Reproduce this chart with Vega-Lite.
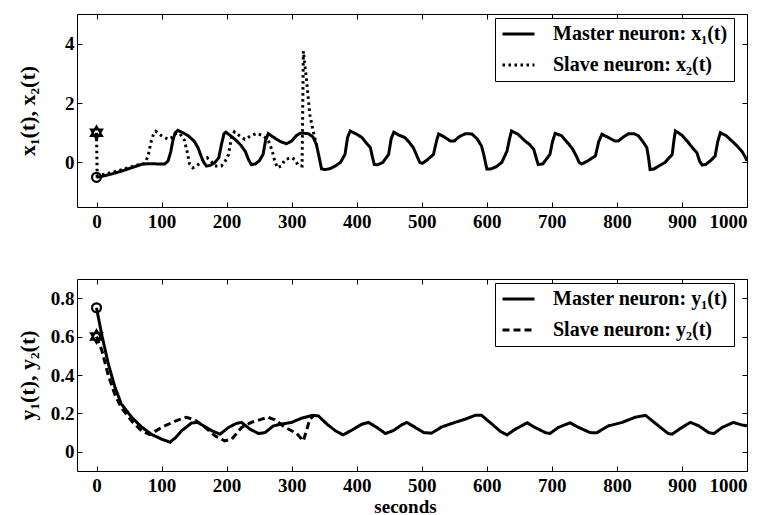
{
  "$schema": "https://vega.github.io/schema/vega-lite/v6.json",
  "autosize": {"type": "pad"},
  "padding": {"left": 15, "top": 13, "right": 5, "bottom": 0},
  "background": "white",
  "bounds": "flush",
  "spacing": 72,
  "config": {
    "view": {"stroke": "black", "strokeWidth": 1},
    "axis": {
      "labelFont": "Liberation Serif", "labelFontSize": 19, "labelFontWeight": "bold", "labelColor": "black",
      "titleFont": "Liberation Serif", "titleFontSize": 20, "titleFontWeight": "bold", "titleColor": "black",
      "domain": false, "grid": false, "tickColor": "black", "tickSize": -5, "tickWidth": 1
    },
    "legend": {
      "orient": "none", "legendX": 418, "legendY": 4, "title": null,
      "strokeColor": "black", "fillColor": "white", "padding": 6,
      "labelFont": "Liberation Serif", "labelFontSize": 20, "labelFontWeight": "bold", "labelColor": "black", "labelLimit": 400,
      "symbolType": "stroke", "symbolSize": 1024, "symbolStrokeWidth": 3, "symbolStrokeColor": "black",
      "clipHeight": 20, "rowPadding": 11, "labelOffset": 17
    }
  },
  "datasets": {
    "x": [
      {"t":0,"v":-0.5,"s":"Master neuron: x₁(t)"},{"t":10,"v":-0.46,"s":"Master neuron: x₁(t)"},{"t":25,"v":-0.38,"s":"Master neuron: x₁(t)"},{"t":40,"v":-0.28,"s":"Master neuron: x₁(t)"},{"t":55,"v":-0.17,"s":"Master neuron: x₁(t)"},{"t":70,"v":-0.06,"s":"Master neuron: x₁(t)"},{"t":80,"v":-0.04,"s":"Master neuron: x₁(t)"},{"t":95,"v":-0.05,"s":"Master neuron: x₁(t)"},{"t":105,"v":-0.05,"s":"Master neuron: x₁(t)"},{"t":110,"v":0.05,"s":"Master neuron: x₁(t)"},{"t":114,"v":0.35,"s":"Master neuron: x₁(t)"},{"t":118,"v":0.8,"s":"Master neuron: x₁(t)"},{"t":121,"v":1.0,"s":"Master neuron: x₁(t)"},{"t":125,"v":1.08,"s":"Master neuron: x₁(t)"},{"t":133,"v":1.0,"s":"Master neuron: x₁(t)"},{"t":141,"v":0.9,"s":"Master neuron: x₁(t)"},{"t":150,"v":0.72,"s":"Master neuron: x₁(t)"},{"t":156,"v":0.5,"s":"Master neuron: x₁(t)"},{"t":161,"v":0.2,"s":"Master neuron: x₁(t)"},{"t":165,"v":0.0,"s":"Master neuron: x₁(t)"},{"t":169,"v":-0.12,"s":"Master neuron: x₁(t)"},{"t":175,"v":-0.1,"s":"Master neuron: x₁(t)"},{"t":182,"v":0.0,"s":"Master neuron: x₁(t)"},{"t":188,"v":0.16,"s":"Master neuron: x₁(t)"},{"t":192,"v":0.6,"s":"Master neuron: x₁(t)"},{"t":196,"v":0.97,"s":"Master neuron: x₁(t)"},{"t":199,"v":1.02,"s":"Master neuron: x₁(t)"},{"t":206,"v":0.9,"s":"Master neuron: x₁(t)"},{"t":213,"v":0.78,"s":"Master neuron: x₁(t)"},{"t":222,"v":0.58,"s":"Master neuron: x₁(t)"},{"t":229,"v":0.36,"s":"Master neuron: x₁(t)"},{"t":234,"v":0.08,"s":"Master neuron: x₁(t)"},{"t":238,"v":-0.07,"s":"Master neuron: x₁(t)"},{"t":244,"v":-0.05,"s":"Master neuron: x₁(t)"},{"t":250,"v":0.05,"s":"Master neuron: x₁(t)"},{"t":256,"v":0.27,"s":"Master neuron: x₁(t)"},{"t":260,"v":0.75,"s":"Master neuron: x₁(t)"},{"t":264,"v":0.97,"s":"Master neuron: x₁(t)"},{"t":270,"v":0.88,"s":"Master neuron: x₁(t)"},{"t":277,"v":0.78,"s":"Master neuron: x₁(t)"},{"t":283,"v":0.7,"s":"Master neuron: x₁(t)"},{"t":292,"v":0.63,"s":"Master neuron: x₁(t)"},{"t":300,"v":0.72,"s":"Master neuron: x₁(t)"},{"t":307,"v":0.9,"s":"Master neuron: x₁(t)"},{"t":313,"v":0.98,"s":"Master neuron: x₁(t)"},{"t":320,"v":0.98,"s":"Master neuron: x₁(t)"},{"t":326,"v":0.97,"s":"Master neuron: x₁(t)"},{"t":333,"v":0.85,"s":"Master neuron: x₁(t)"},{"t":338,"v":0.61,"s":"Master neuron: x₁(t)"},{"t":342,"v":0.2,"s":"Master neuron: x₁(t)"},{"t":346,"v":-0.22,"s":"Master neuron: x₁(t)"},{"t":352,"v":-0.24,"s":"Master neuron: x₁(t)"},{"t":360,"v":-0.2,"s":"Master neuron: x₁(t)"},{"t":367,"v":-0.12,"s":"Master neuron: x₁(t)"},{"t":375,"v":0.0,"s":"Master neuron: x₁(t)"},{"t":382,"v":0.27,"s":"Master neuron: x₁(t)"},{"t":386,"v":0.85,"s":"Master neuron: x₁(t)"},{"t":390,"v":1.06,"s":"Master neuron: x₁(t)"},{"t":400,"v":0.95,"s":"Master neuron: x₁(t)"},{"t":408,"v":0.84,"s":"Master neuron: x₁(t)"},{"t":415,"v":0.65,"s":"Master neuron: x₁(t)"},{"t":421,"v":0.5,"s":"Master neuron: x₁(t)"},{"t":424,"v":0.2,"s":"Master neuron: x₁(t)"},{"t":427,"v":-0.07,"s":"Master neuron: x₁(t)"},{"t":432,"v":-0.08,"s":"Master neuron: x₁(t)"},{"t":440,"v":0.0,"s":"Master neuron: x₁(t)"},{"t":449,"v":0.27,"s":"Master neuron: x₁(t)"},{"t":453,"v":0.8,"s":"Master neuron: x₁(t)"},{"t":457,"v":1.02,"s":"Master neuron: x₁(t)"},{"t":465,"v":0.92,"s":"Master neuron: x₁(t)"},{"t":474,"v":0.84,"s":"Master neuron: x₁(t)"},{"t":480,"v":0.7,"s":"Master neuron: x₁(t)"},{"t":487,"v":0.5,"s":"Master neuron: x₁(t)"},{"t":493,"v":0.2,"s":"Master neuron: x₁(t)"},{"t":497,"v":0.0,"s":"Master neuron: x₁(t)"},{"t":501,"v":-0.03,"s":"Master neuron: x₁(t)"},{"t":508,"v":0.08,"s":"Master neuron: x₁(t)"},{"t":518,"v":0.27,"s":"Master neuron: x₁(t)"},{"t":523,"v":0.75,"s":"Master neuron: x₁(t)"},{"t":526,"v":0.96,"s":"Master neuron: x₁(t)"},{"t":533,"v":0.88,"s":"Master neuron: x₁(t)"},{"t":544,"v":0.72,"s":"Master neuron: x₁(t)"},{"t":550,"v":0.72,"s":"Master neuron: x₁(t)"},{"t":557,"v":0.86,"s":"Master neuron: x₁(t)"},{"t":567,"v":0.97,"s":"Master neuron: x₁(t)"},{"t":577,"v":0.96,"s":"Master neuron: x₁(t)"},{"t":585,"v":0.8,"s":"Master neuron: x₁(t)"},{"t":592,"v":0.55,"s":"Master neuron: x₁(t)"},{"t":596,"v":0.2,"s":"Master neuron: x₁(t)"},{"t":600,"v":-0.22,"s":"Master neuron: x₁(t)"},{"t":606,"v":-0.22,"s":"Master neuron: x₁(t)"},{"t":614,"v":-0.15,"s":"Master neuron: x₁(t)"},{"t":623,"v":0.0,"s":"Master neuron: x₁(t)"},{"t":631,"v":0.38,"s":"Master neuron: x₁(t)"},{"t":635,"v":0.8,"s":"Master neuron: x₁(t)"},{"t":638,"v":1.06,"s":"Master neuron: x₁(t)"},{"t":648,"v":0.95,"s":"Master neuron: x₁(t)"},{"t":659,"v":0.72,"s":"Master neuron: x₁(t)"},{"t":666,"v":0.6,"s":"Master neuron: x₁(t)"},{"t":672,"v":0.45,"s":"Master neuron: x₁(t)"},{"t":676,"v":0.15,"s":"Master neuron: x₁(t)"},{"t":679,"v":-0.07,"s":"Master neuron: x₁(t)"},{"t":686,"v":-0.05,"s":"Master neuron: x₁(t)"},{"t":697,"v":0.27,"s":"Master neuron: x₁(t)"},{"t":701,"v":0.7,"s":"Master neuron: x₁(t)"},{"t":705,"v":0.98,"s":"Master neuron: x₁(t)"},{"t":715,"v":0.9,"s":"Master neuron: x₁(t)"},{"t":726,"v":0.62,"s":"Master neuron: x₁(t)"},{"t":732,"v":0.45,"s":"Master neuron: x₁(t)"},{"t":738,"v":0.2,"s":"Master neuron: x₁(t)"},{"t":742,"v":0.0,"s":"Master neuron: x₁(t)"},{"t":746,"v":-0.05,"s":"Master neuron: x₁(t)"},{"t":755,"v":0.05,"s":"Master neuron: x₁(t)"},{"t":767,"v":0.22,"s":"Master neuron: x₁(t)"},{"t":772,"v":0.7,"s":"Master neuron: x₁(t)"},{"t":777,"v":0.95,"s":"Master neuron: x₁(t)"},{"t":787,"v":0.84,"s":"Master neuron: x₁(t)"},{"t":797,"v":0.72,"s":"Master neuron: x₁(t)"},{"t":802,"v":0.72,"s":"Master neuron: x₁(t)"},{"t":810,"v":0.86,"s":"Master neuron: x₁(t)"},{"t":818,"v":0.97,"s":"Master neuron: x₁(t)"},{"t":826,"v":0.97,"s":"Master neuron: x₁(t)"},{"t":833,"v":0.9,"s":"Master neuron: x₁(t)"},{"t":840,"v":0.7,"s":"Master neuron: x₁(t)"},{"t":846,"v":0.5,"s":"Master neuron: x₁(t)"},{"t":849,"v":0.1,"s":"Master neuron: x₁(t)"},{"t":851,"v":-0.24,"s":"Master neuron: x₁(t)"},{"t":857,"v":-0.22,"s":"Master neuron: x₁(t)"},{"t":866,"v":-0.1,"s":"Master neuron: x₁(t)"},{"t":874,"v":0.0,"s":"Master neuron: x₁(t)"},{"t":885,"v":0.27,"s":"Master neuron: x₁(t)"},{"t":888,"v":0.8,"s":"Master neuron: x₁(t)"},{"t":890,"v":1.06,"s":"Master neuron: x₁(t)"},{"t":900,"v":0.92,"s":"Master neuron: x₁(t)"},{"t":908,"v":0.72,"s":"Master neuron: x₁(t)"},{"t":916,"v":0.5,"s":"Master neuron: x₁(t)"},{"t":923,"v":0.33,"s":"Master neuron: x₁(t)"},{"t":927,"v":0.05,"s":"Master neuron: x₁(t)"},{"t":931,"v":-0.09,"s":"Master neuron: x₁(t)"},{"t":937,"v":-0.06,"s":"Master neuron: x₁(t)"},{"t":945,"v":0.08,"s":"Master neuron: x₁(t)"},{"t":951,"v":0.22,"s":"Master neuron: x₁(t)"},{"t":955,"v":0.7,"s":"Master neuron: x₁(t)"},{"t":959,"v":1.0,"s":"Master neuron: x₁(t)"},{"t":968,"v":0.9,"s":"Master neuron: x₁(t)"},{"t":977,"v":0.72,"s":"Master neuron: x₁(t)"},{"t":985,"v":0.55,"s":"Master neuron: x₁(t)"},{"t":992,"v":0.38,"s":"Master neuron: x₁(t)"},{"t":997,"v":0.2,"s":"Master neuron: x₁(t)"},{"t":1000,"v":0.05,"s":"Master neuron: x₁(t)"},
      {"t":0,"v":1.0,"s":"Slave neuron: x₂(t)"},{"t":1,"v":-0.45,"s":"Slave neuron: x₂(t)"},{"t":15,"v":-0.38,"s":"Slave neuron: x₂(t)"},{"t":30,"v":-0.3,"s":"Slave neuron: x₂(t)"},{"t":45,"v":-0.2,"s":"Slave neuron: x₂(t)"},{"t":60,"v":-0.1,"s":"Slave neuron: x₂(t)"},{"t":74,"v":-0.03,"s":"Slave neuron: x₂(t)"},{"t":79,"v":0.2,"s":"Slave neuron: x₂(t)"},{"t":84,"v":0.7,"s":"Slave neuron: x₂(t)"},{"t":88,"v":0.98,"s":"Slave neuron: x₂(t)"},{"t":91,"v":1.05,"s":"Slave neuron: x₂(t)"},{"t":100,"v":0.9,"s":"Slave neuron: x₂(t)"},{"t":110,"v":0.78,"s":"Slave neuron: x₂(t)"},{"t":117,"v":0.85,"s":"Slave neuron: x₂(t)"},{"t":121,"v":0.97,"s":"Slave neuron: x₂(t)"},{"t":128,"v":0.98,"s":"Slave neuron: x₂(t)"},{"t":135,"v":0.75,"s":"Slave neuron: x₂(t)"},{"t":139,"v":0.4,"s":"Slave neuron: x₂(t)"},{"t":143,"v":-0.05,"s":"Slave neuron: x₂(t)"},{"t":148,"v":-0.18,"s":"Slave neuron: x₂(t)"},{"t":154,"v":-0.12,"s":"Slave neuron: x₂(t)"},{"t":162,"v":0.05,"s":"Slave neuron: x₂(t)"},{"t":170,"v":0.16,"s":"Slave neuron: x₂(t)"},{"t":176,"v":0.05,"s":"Slave neuron: x₂(t)"},{"t":182,"v":-0.12,"s":"Slave neuron: x₂(t)"},{"t":192,"v":-0.12,"s":"Slave neuron: x₂(t)"},{"t":198,"v":0.05,"s":"Slave neuron: x₂(t)"},{"t":203,"v":0.27,"s":"Slave neuron: x₂(t)"},{"t":207,"v":0.8,"s":"Slave neuron: x₂(t)"},{"t":212,"v":1.03,"s":"Slave neuron: x₂(t)"},{"t":220,"v":0.9,"s":"Slave neuron: x₂(t)"},{"t":228,"v":0.78,"s":"Slave neuron: x₂(t)"},{"t":236,"v":0.88,"s":"Slave neuron: x₂(t)"},{"t":246,"v":0.98,"s":"Slave neuron: x₂(t)"},{"t":256,"v":0.9,"s":"Slave neuron: x₂(t)"},{"t":264,"v":0.75,"s":"Slave neuron: x₂(t)"},{"t":270,"v":0.4,"s":"Slave neuron: x₂(t)"},{"t":274,"v":0.05,"s":"Slave neuron: x₂(t)"},{"t":278,"v":-0.18,"s":"Slave neuron: x₂(t)"},{"t":284,"v":-0.12,"s":"Slave neuron: x₂(t)"},{"t":290,"v":0.1,"s":"Slave neuron: x₂(t)"},{"t":300,"v":0.16,"s":"Slave neuron: x₂(t)"},{"t":305,"v":0.1,"s":"Slave neuron: x₂(t)"},{"t":310,"v":-0.1,"s":"Slave neuron: x₂(t)"},{"t":316,"v":-0.12,"s":"Slave neuron: x₂(t)"},{"t":318,"v":3.75,"s":"Slave neuron: x₂(t)"},{"t":323,"v":2.75,"s":"Slave neuron: x₂(t)"},{"t":328,"v":1.6,"s":"Slave neuron: x₂(t)"},{"t":333,"v":1.06,"s":"Slave neuron: x₂(t)"},{"t":338,"v":0.61,"s":"Slave neuron: x₂(t)"}
    ],
    "xm": [{"t":0,"v":-0.5,"m":"circle"},{"t":0,"v":1.0,"m":"star"}],
    "y": [
      {"t":0,"v":0.75,"s":"Master neuron: y₁(t)"},{"t":8,"v":0.61,"s":"Master neuron: y₁(t)"},{"t":18,"v":0.46,"s":"Master neuron: y₁(t)"},{"t":28,"v":0.34,"s":"Master neuron: y₁(t)"},{"t":38,"v":0.25,"s":"Master neuron: y₁(t)"},{"t":54,"v":0.18,"s":"Master neuron: y₁(t)"},{"t":69,"v":0.13,"s":"Master neuron: y₁(t)"},{"t":85,"v":0.09,"s":"Master neuron: y₁(t)"},{"t":100,"v":0.066,"s":"Master neuron: y₁(t)"},{"t":113,"v":0.05,"s":"Master neuron: y₁(t)"},{"t":122,"v":0.075,"s":"Master neuron: y₁(t)"},{"t":131,"v":0.11,"s":"Master neuron: y₁(t)"},{"t":146,"v":0.15,"s":"Master neuron: y₁(t)"},{"t":156,"v":0.153,"s":"Master neuron: y₁(t)"},{"t":167,"v":0.13,"s":"Master neuron: y₁(t)"},{"t":177,"v":0.11,"s":"Master neuron: y₁(t)"},{"t":190,"v":0.092,"s":"Master neuron: y₁(t)"},{"t":203,"v":0.127,"s":"Master neuron: y₁(t)"},{"t":215,"v":0.148,"s":"Master neuron: y₁(t)"},{"t":223,"v":0.153,"s":"Master neuron: y₁(t)"},{"t":236,"v":0.118,"s":"Master neuron: y₁(t)"},{"t":249,"v":0.095,"s":"Master neuron: y₁(t)"},{"t":259,"v":0.1,"s":"Master neuron: y₁(t)"},{"t":272,"v":0.135,"s":"Master neuron: y₁(t)"},{"t":285,"v":0.145,"s":"Master neuron: y₁(t)"},{"t":300,"v":0.153,"s":"Master neuron: y₁(t)"},{"t":315,"v":0.175,"s":"Master neuron: y₁(t)"},{"t":333,"v":0.19,"s":"Master neuron: y₁(t)"},{"t":341,"v":0.187,"s":"Master neuron: y₁(t)"},{"t":354,"v":0.145,"s":"Master neuron: y₁(t)"},{"t":367,"v":0.11,"s":"Master neuron: y₁(t)"},{"t":379,"v":0.088,"s":"Master neuron: y₁(t)"},{"t":392,"v":0.112,"s":"Master neuron: y₁(t)"},{"t":408,"v":0.144,"s":"Master neuron: y₁(t)"},{"t":418,"v":0.153,"s":"Master neuron: y₁(t)"},{"t":431,"v":0.127,"s":"Master neuron: y₁(t)"},{"t":444,"v":0.095,"s":"Master neuron: y₁(t)"},{"t":456,"v":0.11,"s":"Master neuron: y₁(t)"},{"t":469,"v":0.14,"s":"Master neuron: y₁(t)"},{"t":477,"v":0.153,"s":"Master neuron: y₁(t)"},{"t":490,"v":0.127,"s":"Master neuron: y₁(t)"},{"t":503,"v":0.1,"s":"Master neuron: y₁(t)"},{"t":515,"v":0.097,"s":"Master neuron: y₁(t)"},{"t":531,"v":0.13,"s":"Master neuron: y₁(t)"},{"t":551,"v":0.153,"s":"Master neuron: y₁(t)"},{"t":567,"v":0.17,"s":"Master neuron: y₁(t)"},{"t":582,"v":0.19,"s":"Master neuron: y₁(t)"},{"t":592,"v":0.19,"s":"Master neuron: y₁(t)"},{"t":608,"v":0.144,"s":"Master neuron: y₁(t)"},{"t":621,"v":0.106,"s":"Master neuron: y₁(t)"},{"t":631,"v":0.088,"s":"Master neuron: y₁(t)"},{"t":644,"v":0.118,"s":"Master neuron: y₁(t)"},{"t":662,"v":0.151,"s":"Master neuron: y₁(t)"},{"t":674,"v":0.127,"s":"Master neuron: y₁(t)"},{"t":690,"v":0.1,"s":"Master neuron: y₁(t)"},{"t":697,"v":0.095,"s":"Master neuron: y₁(t)"},{"t":710,"v":0.127,"s":"Master neuron: y₁(t)"},{"t":728,"v":0.151,"s":"Master neuron: y₁(t)"},{"t":741,"v":0.127,"s":"Master neuron: y₁(t)"},{"t":759,"v":0.1,"s":"Master neuron: y₁(t)"},{"t":769,"v":0.099,"s":"Master neuron: y₁(t)"},{"t":787,"v":0.135,"s":"Master neuron: y₁(t)"},{"t":808,"v":0.153,"s":"Master neuron: y₁(t)"},{"t":828,"v":0.18,"s":"Master neuron: y₁(t)"},{"t":844,"v":0.19,"s":"Master neuron: y₁(t)"},{"t":864,"v":0.135,"s":"Master neuron: y₁(t)"},{"t":879,"v":0.095,"s":"Master neuron: y₁(t)"},{"t":885,"v":0.092,"s":"Master neuron: y₁(t)"},{"t":900,"v":0.127,"s":"Master neuron: y₁(t)"},{"t":913,"v":0.153,"s":"Master neuron: y₁(t)"},{"t":926,"v":0.135,"s":"Master neuron: y₁(t)"},{"t":941,"v":0.1,"s":"Master neuron: y₁(t)"},{"t":949,"v":0.095,"s":"Master neuron: y₁(t)"},{"t":962,"v":0.127,"s":"Master neuron: y₁(t)"},{"t":979,"v":0.153,"s":"Master neuron: y₁(t)"},{"t":992,"v":0.14,"s":"Master neuron: y₁(t)"},{"t":1000,"v":0.135,"s":"Master neuron: y₁(t)"},
      {"t":0,"v":0.6,"s":"Slave neuron: y₂(t)"},{"t":8,"v":0.53,"s":"Slave neuron: y₂(t)"},{"t":18,"v":0.4,"s":"Slave neuron: y₂(t)"},{"t":28,"v":0.3,"s":"Slave neuron: y₂(t)"},{"t":38,"v":0.23,"s":"Slave neuron: y₂(t)"},{"t":54,"v":0.16,"s":"Slave neuron: y₂(t)"},{"t":69,"v":0.11,"s":"Slave neuron: y₂(t)"},{"t":82,"v":0.09,"s":"Slave neuron: y₂(t)"},{"t":100,"v":0.127,"s":"Slave neuron: y₂(t)"},{"t":121,"v":0.16,"s":"Slave neuron: y₂(t)"},{"t":138,"v":0.18,"s":"Slave neuron: y₂(t)"},{"t":151,"v":0.167,"s":"Slave neuron: y₂(t)"},{"t":167,"v":0.127,"s":"Slave neuron: y₂(t)"},{"t":182,"v":0.083,"s":"Slave neuron: y₂(t)"},{"t":197,"v":0.057,"s":"Slave neuron: y₂(t)"},{"t":208,"v":0.066,"s":"Slave neuron: y₂(t)"},{"t":223,"v":0.127,"s":"Slave neuron: y₂(t)"},{"t":238,"v":0.153,"s":"Slave neuron: y₂(t)"},{"t":254,"v":0.17,"s":"Slave neuron: y₂(t)"},{"t":264,"v":0.18,"s":"Slave neuron: y₂(t)"},{"t":274,"v":0.167,"s":"Slave neuron: y₂(t)"},{"t":290,"v":0.127,"s":"Slave neuron: y₂(t)"},{"t":308,"v":0.095,"s":"Slave neuron: y₂(t)"},{"t":318,"v":0.057,"s":"Slave neuron: y₂(t)"},{"t":328,"v":0.17,"s":"Slave neuron: y₂(t)"},{"t":333,"v":0.185,"s":"Slave neuron: y₂(t)"}
    ],
    "ym": [{"t":0,"v":0.75,"m":"circle"},{"t":0,"v":0.6,"m":"star"}]
  },
  "vconcat": [
    {
      "width": 670, "height": 193,
      "resolve": {"axis": {"x": "independent", "y": "independent"}},
      "layer": [
        {
          "data": {"name": "x"},
          "mark": {"type": "line", "color": "black", "strokeWidth": 3, "strokeCap": "butt", "clip": true},
          "encoding": {
            "x": {"field": "t", "type": "quantitative", "scale": {"domain": [-30, 1000], "nice": false, "zero": false},
                  "axis": {"orient": "bottom", "values": [0,100,200,300,400,500,600,700,800,900,1000], "format": "d", "title": null, "labelPadding": 10}},
            "y": {"field": "v", "type": "quantitative", "scale": {"domain": [-1.5, 5], "nice": false, "zero": false},
                  "axis": {"orient": "left", "values": [0, 2, 4], "title": "x₁(t), x₂(t)", "titleFontSize": 22, "labelPadding": 8, "titleX": -50, "titleY": 96.5, "titleBaseline": "middle", "titleAngle": -90}},
            "strokeDash": {"field": "s", "type": "nominal",
                  "scale": {"domain": ["Master neuron: x₁(t)", "Slave neuron: x₂(t)"], "range": [[1, 0], [2.5, 3.5]]}}
          }
        },
        {
          "data": {"name": "xm"},
          "transform": [{"filter": "datum.m === 'circle'"}],
          "mark": {"type": "point", "shape": "circle", "filled": false, "color": "black", "opacity": 1, "strokeWidth": 2.2, "size": 80},
          "encoding": {
            "x": {"field": "t", "type": "quantitative", "axis": {"orient": "top", "values": [0,100,200,300,400,500,600,700,800,900,1000], "labels": false, "title": null}},
            "y": {"field": "v", "type": "quantitative", "axis": {"orient": "right", "values": [0, 2, 4], "labels": false, "title": null}}
          }
        },
        {
          "data": {"name": "xm"},
          "transform": [{"filter": "datum.m === 'star'"}],
          "mark": {"type": "point", "shape": "M0,-1L0.866,0.5L-0.866,0.5Z M0,1L0.866,-0.5L-0.866,-0.5Z", "filled": false, "color": "black", "opacity": 1, "strokeWidth": 2, "size": 170},
          "encoding": {
            "x": {"field": "t", "type": "quantitative", "axis": null},
            "y": {"field": "v", "type": "quantitative", "axis": null}
          }
        }
      ]
    },
    {
      "width": 670, "height": 192,
      "resolve": {"axis": {"x": "independent", "y": "independent"}},
      "layer": [
        {
          "data": {"name": "y"},
          "mark": {"type": "line", "color": "black", "strokeWidth": 3, "strokeCap": "butt", "clip": true},
          "encoding": {
            "x": {"field": "t", "type": "quantitative", "scale": {"domain": [-30, 1000], "nice": false, "zero": false},
                  "axis": {"orient": "bottom", "values": [0,100,200,300,400,500,600,700,800,900,1000], "format": "d", "title": "seconds", "titleFontSize": 19, "labelPadding": 10, "titleX": 328, "titleY": 35, "titleBaseline": "middle"}},
            "y": {"field": "v", "type": "quantitative", "scale": {"domain": [-0.1, 0.9], "nice": false, "zero": false},
                  "axis": {"orient": "left", "values": [0, 0.2, 0.4, 0.6, 0.8], "labelExpr": "datum.value == 0 ? '0' : format(datum.value, '.1f')", "title": "y₁(t), y₂(t)", "titleFontSize": 22, "labelPadding": 8, "titleX": -50, "titleY": 96, "titleBaseline": "middle", "titleAngle": -90}},
            "strokeDash": {"field": "s", "type": "nominal",
                  "scale": {"domain": ["Master neuron: y₁(t)", "Slave neuron: y₂(t)"], "range": [[1, 0], [7, 4]]}}
          }
        },
        {
          "data": {"name": "ym"},
          "transform": [{"filter": "datum.m === 'circle'"}],
          "mark": {"type": "point", "shape": "circle", "filled": false, "color": "black", "opacity": 1, "strokeWidth": 2.2, "size": 80},
          "encoding": {
            "x": {"field": "t", "type": "quantitative", "axis": {"orient": "top", "values": [0,100,200,300,400,500,600,700,800,900,1000], "labels": false, "title": null}},
            "y": {"field": "v", "type": "quantitative", "axis": {"orient": "right", "values": [0, 0.2, 0.4, 0.6, 0.8], "labels": false, "title": null}}
          }
        },
        {
          "data": {"name": "ym"},
          "transform": [{"filter": "datum.m === 'star'"}],
          "mark": {"type": "point", "shape": "M0,-1L0.866,0.5L-0.866,0.5Z M0,1L0.866,-0.5L-0.866,-0.5Z", "filled": false, "color": "black", "opacity": 1, "strokeWidth": 2, "size": 170},
          "encoding": {
            "x": {"field": "t", "type": "quantitative", "axis": null},
            "y": {"field": "v", "type": "quantitative", "axis": null}
          }
        }
      ]
    }
  ],
  "resolve": {"scale": {"strokeDash": "independent"}}
}
